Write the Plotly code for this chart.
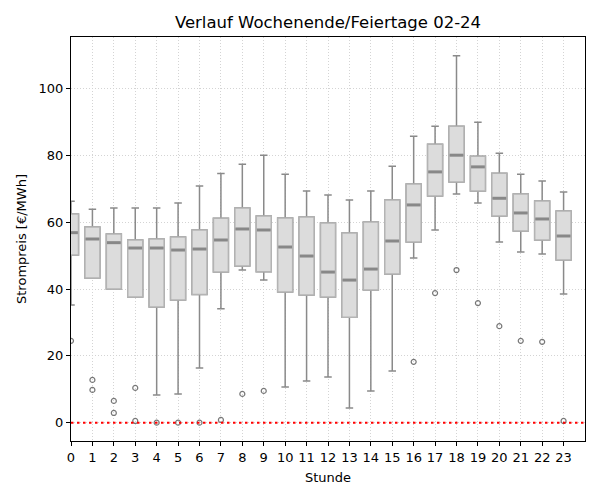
import plotly.graph_objects as go

hours = list(range(24))
q1 = [50.2, 43.3, 40.0, 37.6, 34.6, 36.7, 38.4, 45.1, 46.9, 45.2, 39.1, 38.2,
      37.6, 31.6, 39.7, 44.5, 54.1, 67.9, 72.1, 69.4, 61.9, 57.4, 54.7, 48.7]
median = [56.9, 55.0, 53.9, 52.3, 52.3, 51.7, 52.0, 54.7, 58.0, 57.7, 52.6, 49.9,
          45.1, 42.7, 46.0, 54.4, 65.2, 75.1, 80.1, 76.6, 67.2, 62.8, 61.0, 55.9]
q3 = [62.5, 58.6, 56.5, 54.7, 55.0, 55.6, 57.7, 61.2, 64.3, 61.9, 61.3, 61.6,
      59.8, 56.8, 60.1, 66.7, 71.5, 83.4, 88.8, 79.8, 74.7, 68.5, 66.4, 63.4]
whisk_lo = [35.2, 43.3, 40.0, 37.6, 8.3, 8.6, 16.4, 34.1, 45.7, 42.7, 10.7, 12.5,
            13.7, 4.4, 9.5, 15.5, 49.3, 57.7, 68.5, 65.8, 54.1, 51.1, 50.5, 38.5]
whisk_hi = [66.3, 63.9, 64.3, 64.3, 64.3, 65.8, 70.9, 74.6, 77.4, 80.1, 74.4, 69.4,
            68.2, 66.7, 69.4, 76.8, 85.8, 88.8, 109.9, 90.0, 80.7, 74.4, 72.4, 69.1]
outlier_hours = [0, 1, 1, 2, 2, 3, 3, 4, 5, 6, 7, 8, 9, 16, 17, 18, 19, 20, 21, 22, 23]
outlier_vals = [24.5, 12.8, 9.8, 6.5, 2.9, 10.4, 0.5, 0.0, 0.0, 0.0, 0.8, 8.6, 9.5,
                18.2, 38.8, 45.7, 35.8, 28.9, 24.5, 24.2, 0.5]

BOX_W = 0.7
FONT = "DejaVu Sans"

fig = go.Figure()
# full box with whiskers (darker gray)
fig.add_trace(go.Box(
    x=hours, q1=q1, median=median, q3=q3, lowerfence=whisk_lo, upperfence=whisk_hi,
    width=BOX_W, whiskerwidth=0.5, fillcolor="#dcdcdc",
    line=dict(color="#8a8a8a", width=1.5), boxpoints=False, showlegend=False,
    hoverinfo="skip"))
# overlay box body with lighter edge
fig.add_trace(go.Box(
    x=hours, q1=q1, median=median, q3=q3, lowerfence=q1, upperfence=q3,
    width=BOX_W, whiskerwidth=0, fillcolor="#dcdcdc",
    line=dict(color="#b4b4b4", width=1.5), boxpoints=False, showlegend=False,
    hoverinfo="skip"))
# median lines
mx, my = [], []
for h, m in zip(hours, median):
    mx += [h - BOX_W / 2 + 0.03, h + BOX_W / 2 - 0.03, None]
    my += [m, m, None]
fig.add_trace(go.Scatter(x=mx, y=my, mode="lines",
                         line=dict(color="#888888", width=3), showlegend=False,
                         hoverinfo="skip"))
# outliers
fig.add_trace(go.Scatter(x=outlier_hours, y=outlier_vals, mode="markers",
                         marker=dict(symbol="circle-open", size=5, color="#777777",
                                     line=dict(width=1.2, color="#777777")),
                         showlegend=False, cliponaxis=True))

fig.add_shape(type="line", xref="paper", x0=0, x1=1, yref="y", y0=0, y1=0,
              line=dict(color="red", width=2, dash="2.5px,3.5px"))

fig.update_layout(
    width=600, height=500, boxmode="overlay",
    margin=dict(l=71, r=15, t=37, b=59),
    paper_bgcolor="white", plot_bgcolor="white",
    font=dict(family=FONT, size=13, color="black"),
    title=dict(text="Verlauf Wochenende/Feiertage 02-24", x=0.5, xref="paper",
               xanchor="center", y=1 - 22 / 500, yref="container", yanchor="middle",
               font=dict(size=16.5, family=FONT, color="black")),
    xaxis=dict(range=[0, 24], tickvals=hours, ticktext=[str(h) for h in hours],
               showgrid=True, gridcolor="#d4d4d4", griddash="1px,2px", gridwidth=1,
               showline=True, linecolor="black", linewidth=1.2, mirror=True,
               ticks="outside", ticklen=4, tickcolor="black", zeroline=False,
               title=dict(text="Stunde", font=dict(size=13), standoff=9)),
    yaxis=dict(range=[-5.5, 115.5], tickvals=[0, 20, 40, 60, 80, 100],
               showgrid=True, gridcolor="#d4d4d4", griddash="1px,2px", gridwidth=1,
               showline=True, linecolor="black", linewidth=1.2, mirror=True,
               ticks="outside", ticklen=4, tickcolor="black", zeroline=False,
               title=dict(text="Strompreis [€/MWh]", font=dict(size=13), standoff=8)),
)

fig.write_html("out.html")
